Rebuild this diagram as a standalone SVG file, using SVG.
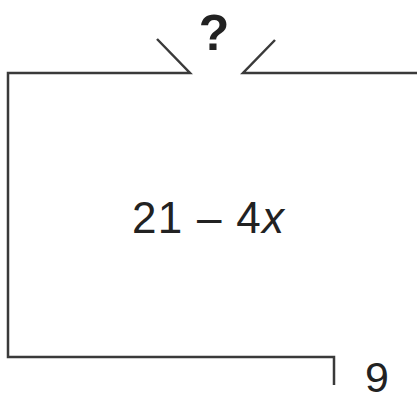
<svg xmlns="http://www.w3.org/2000/svg" width="417" height="394" viewBox="0 0 417 394">
<style>
.ln{fill:none;stroke:#3a3a3a;stroke-width:2.5;stroke-linecap:butt}
.t{font-family:"Liberation Sans",Arial,sans-serif;fill:#222}
</style>
<rect width="417" height="394" fill="#fff"/>
<g id="connectors">
<path class="ln" d="M157,39 L190,73 L8,73 L8,357 L334,357 L334,385"/>
<path class="ln" d="M275,40 L243,73 L417,73"/>
</g>
<g id="question"><text class="t" x="214" y="50" font-size="50" font-weight="bold" text-anchor="middle">?</text></g>
<g id="expr"><text class="t" x="132" y="233" font-size="44" textLength="152">21 – 4<tspan font-style="italic">x</tspan></text></g>
<g id="nine"><text class="t" x="377" y="392" font-size="43" text-anchor="middle">9</text></g>
</svg>
